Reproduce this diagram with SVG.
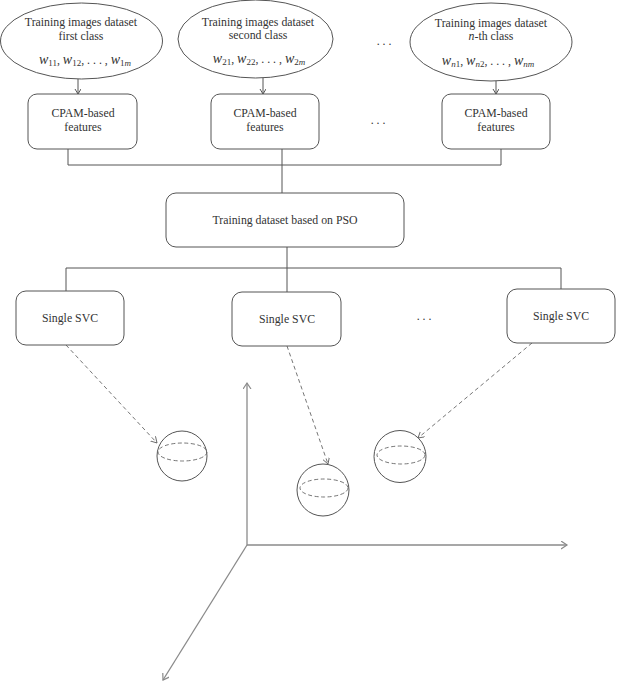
<svg xmlns="http://www.w3.org/2000/svg" width="617" height="688" viewBox="0 0 617 688">
<style>
.shape{fill:#fff;stroke:#555;stroke-width:1}
.ln{fill:none;stroke:#555;stroke-width:1}
.dash{fill:none;stroke:#666;stroke-width:0.9;stroke-dasharray:4 3}
.eq{fill:none;stroke:#666;stroke-width:0.9;stroke-dasharray:4 2.5}
.axis{fill:none;stroke:#8a8a8a;stroke-width:1.3}
text{font-family:"Liberation Serif","Times New Roman",serif;font-size:11.8px;fill:#333;text-anchor:middle}
.it{font-style:italic}
.w{font-size:14px}
.sb{font-size:9px}
</style>
<defs>
<marker id="ah" markerWidth="8" markerHeight="8" refX="5" refY="3" orient="auto" markerUnits="userSpaceOnUse">
<path d="M0,0 L5,3 L0,6" fill="none" stroke="#555" stroke-width="1"/>
</marker>
<marker id="ahd" markerWidth="8" markerHeight="8" refX="6" refY="3.5" orient="auto" markerUnits="userSpaceOnUse">
<path d="M0,0 L6,3.5 L0,7" fill="none" stroke="#666" stroke-width="0.9"/>
</marker>
<marker id="aha" markerWidth="10" markerHeight="10" refX="6" refY="4" orient="auto" markerUnits="userSpaceOnUse">
<path d="M0,0 L6,4 L0,8" fill="none" stroke="#8a8a8a" stroke-width="1.2"/>
</marker>
</defs>

<g id="connectors">
<line class="ln" x1="78" y1="79" x2="78" y2="94" marker-end="url(#ah)"/>
<line class="ln" x1="263" y1="78" x2="263" y2="94" marker-end="url(#ah)"/>
<line class="ln" x1="496" y1="81" x2="496" y2="94" marker-end="url(#ah)"/>
<polyline class="ln" points="68,149 68,165 501,165 501,149"/>
<line class="ln" x1="282" y1="149" x2="282" y2="193"/>
<line class="ln" x1="287" y1="247" x2="287" y2="292"/>
<polyline class="ln" points="66,291 66,268 561,268 561,289"/>
<line class="dash" x1="66" y1="345" x2="157" y2="443" marker-end="url(#ahd)"/>
<line class="dash" x1="287" y1="346" x2="328" y2="464" marker-end="url(#ahd)"/>
<line class="dash" x1="532" y1="343" x2="418" y2="438" marker-end="url(#ahd)"/>
</g>

<g id="ellipse1">
<ellipse class="shape" cx="81.5" cy="41" rx="81" ry="38"/>
<text x="81" y="26">Training images dataset</text>
<text x="81" y="39.5">first class</text>
<text x="85" y="64"><tspan class="it w">w</tspan><tspan class="sb" dy="2">11</tspan><tspan dy="-2">, </tspan><tspan class="it w">w</tspan><tspan class="sb" dy="2">12</tspan><tspan dy="-2">, . . . , </tspan><tspan class="it w">w</tspan><tspan class="sb" dy="2">1<tspan class="it">m</tspan></tspan></text>
</g>

<g id="ellipse2">
<ellipse class="shape" cx="255.5" cy="39" rx="77.5" ry="39"/>
<text x="258" y="25.5">Training images dataset</text>
<text x="258" y="38.7">second class</text>
<text x="259" y="63"><tspan class="it w">w</tspan><tspan class="sb" dy="2">21</tspan><tspan dy="-2">, </tspan><tspan class="it w">w</tspan><tspan class="sb" dy="2">22</tspan><tspan dy="-2">, . . . , </tspan><tspan class="it w">w</tspan><tspan class="sb" dy="2">2<tspan class="it">m</tspan></tspan></text>
</g>

<g id="ellipse3">
<ellipse class="shape" cx="491" cy="42" rx="81" ry="39"/>
<text x="491" y="27">Training images dataset</text>
<text x="491" y="39.5"><tspan class="it">n</tspan>-th class</text>
<text x="488" y="64.5"><tspan class="it w">w</tspan><tspan class="sb" dy="2"><tspan class="it">n</tspan>1</tspan><tspan dy="-2">, </tspan><tspan class="it w">w</tspan><tspan class="sb" dy="2"><tspan class="it">n</tspan>2</tspan><tspan dy="-2">, . . . , </tspan><tspan class="it w">w</tspan><tspan class="sb it" dy="2">nm</tspan></text>
</g>

<text x="384" y="45">. . .</text>

<g id="cpam1">
<rect class="shape" x="28" y="94" width="109" height="55" rx="9"/>
<text x="83" y="117">CPAM-based</text>
<text x="83" y="131">features</text>
</g>
<g id="cpam2">
<rect class="shape" x="211" y="94" width="108" height="55" rx="9"/>
<text x="265" y="117">CPAM-based</text>
<text x="265" y="131">features</text>
</g>
<text x="378" y="124">. . .</text>
<g id="cpam3">
<rect class="shape" x="442" y="94" width="108" height="55" rx="9"/>
<text x="496" y="117">CPAM-based</text>
<text x="496" y="131">features</text>
</g>

<g id="pso">
<rect class="shape" x="166" y="193" width="238" height="54" rx="10"/>
<text x="285" y="223.5">Training dataset based on PSO</text>
</g>

<g id="svc1">
<rect class="shape" x="16" y="291" width="108" height="54" rx="10"/>
<text x="70" y="321.5">Single SVC</text>
</g>
<g id="svc2">
<rect class="shape" x="232" y="292" width="109" height="54" rx="10"/>
<text x="287" y="322.5">Single SVC</text>
</g>
<text x="424" y="320">. . .</text>
<g id="svc3">
<rect class="shape" x="507" y="289" width="108" height="54" rx="10"/>
<text x="561" y="319.5">Single SVC</text>
</g>

<g id="axes">
<line class="axis" x1="247" y1="545" x2="247" y2="383" marker-end="url(#aha)"/>
<line class="axis" x1="247" y1="545" x2="567" y2="545" marker-end="url(#aha)"/>
<line class="axis" x1="247" y1="545" x2="163" y2="680" marker-end="url(#aha)"/>
</g>

<g id="sphere1">
<circle class="shape" cx="182" cy="456" r="25"/>
<ellipse class="eq" cx="182.5" cy="452" rx="24.5" ry="9"/>
</g>
<g id="sphere2">
<circle class="shape" cx="323" cy="490" r="26"/>
<ellipse class="eq" cx="324" cy="488" rx="24" ry="9"/>
</g>
<g id="sphere3">
<circle class="shape" cx="400" cy="456.5" r="26"/>
<ellipse class="eq" cx="401" cy="455" rx="24" ry="9"/>
</g>
</svg>
